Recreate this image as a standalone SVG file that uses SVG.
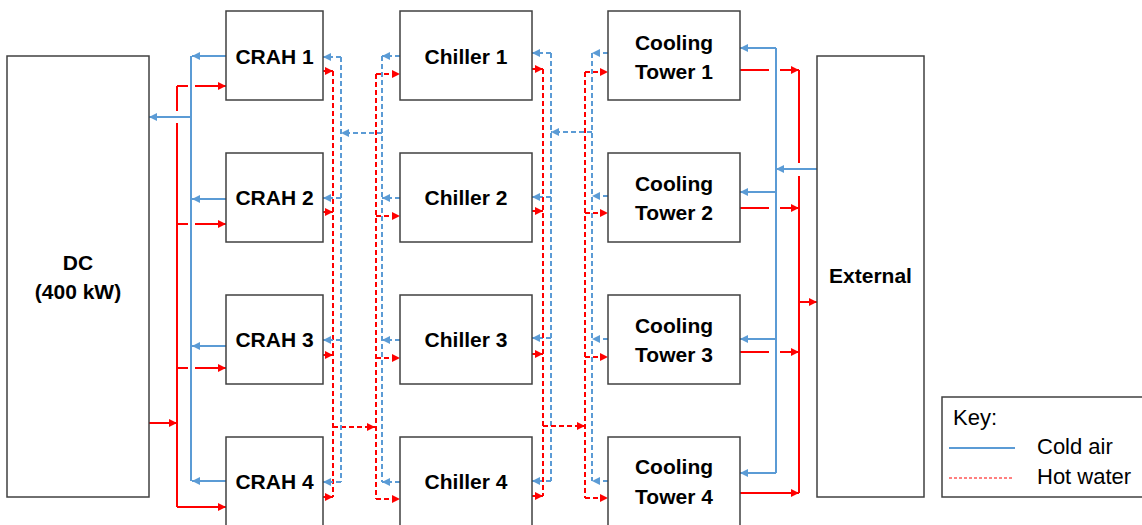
<svg xmlns="http://www.w3.org/2000/svg" width="1142" height="525" viewBox="0 0 1142 525">
<style>
.box{fill:#fff;stroke:#404040;stroke-width:1.5}
.lbl{font-family:"Liberation Sans",Arial,sans-serif;font-weight:bold;font-size:21px;fill:#000;text-anchor:middle}
.key{font-family:"Liberation Sans",Arial,sans-serif;font-size:22px;fill:#000}
.ca{fill:none;stroke:#5B9BD5;stroke-width:2}
.hw{fill:none;stroke:#FF0000;stroke-width:2}
.cad{fill:none;stroke:#5B9BD5;stroke-width:2;stroke-dasharray:5,3}
.hwd{fill:none;stroke:#FF0000;stroke-width:2;stroke-dasharray:5,3}
.ab{marker-end:url(#ab)}
.ar{marker-end:url(#ar)}
</style>
<defs>
<marker id="ab" viewBox="0 0 10 10" refX="10" refY="5" markerWidth="9" markerHeight="8" markerUnits="userSpaceOnUse" orient="auto"><path d="M0,0 L10,5 L0,10 z" fill="#5B9BD5"/></marker>
<marker id="ar" viewBox="0 0 10 10" refX="10" refY="5" markerWidth="9" markerHeight="8" markerUnits="userSpaceOnUse" orient="auto"><path d="M0,0 L10,5 L0,10 z" fill="#FF0000"/></marker>
</defs>
<rect width="1142" height="525" fill="#fff"/>

<g id="connectors">
  <!-- DC - CRAH -->
  <path class="ca" d="M191,56 V481"/>
  <path class="ca ab" d="M226,56 H192"/>
  <path class="ca ab" d="M226,199 H192"/>
  <path class="ca ab" d="M226,346 H192"/>
  <path class="ca ab" d="M226,481 H192"/>
  <path class="ca ab" d="M191,117 H149"/>
  <path class="hw" d="M177,86 V111 M177,123 V507"/>
  <path class="hw ar" d="M177,86 H188 M195,86 H226"/>
  <path class="hw ar" d="M177,224 H188 M195,224 H226"/>
  <path class="hw ar" d="M177,368 H188 M195,368 H226"/>
  <path class="hw ar" d="M177,507 H226"/>
  <path class="hw ar" d="M149,423 H177"/>

  <!-- CRAH - Chiller -->
  <path class="hwd" d="M333,71 V497"/>
  <path class="hwd ar" d="M323,71 H333"/>
  <path class="hwd ar" d="M323,212 H333"/>
  <path class="hwd ar" d="M323,355 H333"/>
  <path class="hwd ar" d="M323,497 H333"/>
  <path class="hwd ar" d="M333,427 H375"/>
  <path class="hwd" d="M376,74 V499"/>
  <path class="hwd ar" d="M376,74 H400"/>
  <path class="hwd ar" d="M376,216 H400"/>
  <path class="hwd ar" d="M376,358 H400"/>
  <path class="hwd ar" d="M376,499 H400"/>
  <path class="cad" d="M341,57 V482"/>
  <path class="cad ab" d="M341,57 H323"/>
  <path class="cad ab" d="M341,198 H323"/>
  <path class="cad ab" d="M341,340 H323"/>
  <path class="cad ab" d="M341,482 H323"/>
  <path class="cad ab" d="M382,133 H341"/>
  <path class="cad" d="M382,56 V482"/>
  <path class="cad ab" d="M400,56 H382"/>
  <path class="cad ab" d="M400,198 H382"/>
  <path class="cad ab" d="M400,340 H382"/>
  <path class="cad ab" d="M400,482 H382"/>

  <!-- Chiller - Cooling Tower -->
  <path class="cad" d="M551,53 V481"/>
  <path class="cad ab" d="M551,53 H532"/>
  <path class="cad ab" d="M551,197 H532"/>
  <path class="cad ab" d="M551,338 H532"/>
  <path class="cad ab" d="M551,481 H532"/>
  <path class="cad ab" d="M592,132 H551"/>
  <path class="cad" d="M592,53 V481"/>
  <path class="cad ab" d="M608,53 H592"/>
  <path class="cad ab" d="M608,196 H592"/>
  <path class="cad ab" d="M608,339 H592"/>
  <path class="cad ab" d="M608,481 H592"/>
  <path class="hwd ar" d="M532,69 H543"/>
  <path class="hwd ar" d="M532,211 H543"/>
  <path class="hwd ar" d="M532,354 H543"/>
  <path class="hwd ar" d="M532,496 H543"/>
  <path class="hwd" d="M543,69 V496"/>
  <path class="hwd ar" d="M543,426 H585"/>
  <path class="hwd" d="M585,72 V498"/>
  <path class="hwd ar" d="M585,72 H608"/>
  <path class="hwd ar" d="M585,213 H608"/>
  <path class="hwd ar" d="M585,357 H608"/>
  <path class="hwd ar" d="M585,498 H608"/>

  <!-- Cooling Tower - External -->
  <path class="ca" d="M776,48 V473"/>
  <path class="ca ab" d="M776,48 H740"/>
  <path class="ca ab" d="M776,192 H740"/>
  <path class="ca ab" d="M776,339 H740"/>
  <path class="ca ab" d="M776,473 H740"/>
  <path class="ca ab" d="M817,169 H776"/>
  <path class="hw" d="M799,70 V163 M799,176 V493"/>
  <path class="hw ar" d="M740,70 H769 M780,70 H799"/>
  <path class="hw ar" d="M740,208 H769 M780,208 H799"/>
  <path class="hw ar" d="M740,352 H769 M780,352 H799"/>
  <path class="hw ar" d="M740,493 H799"/>
  <path class="hw ar" d="M799,302 H817"/>
</g>

<g id="dc"><rect class="box" x="7" y="56" width="142" height="441"/><text class="lbl" x="78" y="270">DC</text><text class="lbl" x="78" y="299">(400 kW)</text></g>

<g id="crah1"><rect class="box" x="226" y="11" width="97" height="89"/><text class="lbl" x="274.5" y="64">CRAH 1</text></g>
<g id="crah2"><rect class="box" x="226" y="153" width="97" height="89"/><text class="lbl" x="274.5" y="205">CRAH 2</text></g>
<g id="crah3"><rect class="box" x="226" y="295" width="97" height="89"/><text class="lbl" x="274.5" y="347">CRAH 3</text></g>
<g id="crah4"><rect class="box" x="226" y="437" width="97" height="90"/><text class="lbl" x="274.5" y="489">CRAH 4</text></g>

<g id="chiller1"><rect class="box" x="400" y="11" width="132" height="89"/><text class="lbl" x="466" y="64">Chiller 1</text></g>
<g id="chiller2"><rect class="box" x="400" y="153" width="132" height="89"/><text class="lbl" x="466" y="205">Chiller 2</text></g>
<g id="chiller3"><rect class="box" x="400" y="295" width="132" height="89"/><text class="lbl" x="466" y="347">Chiller 3</text></g>
<g id="chiller4"><rect class="box" x="400" y="437" width="132" height="90"/><text class="lbl" x="466" y="489">Chiller 4</text></g>

<g id="tower1"><rect class="box" x="608" y="11" width="132" height="89"/><text class="lbl" x="674" y="50">Cooling</text><text class="lbl" x="674" y="79">Tower 1</text></g>
<g id="tower2"><rect class="box" x="608" y="153" width="132" height="89"/><text class="lbl" x="674" y="191">Cooling</text><text class="lbl" x="674" y="220">Tower 2</text></g>
<g id="tower3"><rect class="box" x="608" y="295" width="132" height="89"/><text class="lbl" x="674" y="333">Cooling</text><text class="lbl" x="674" y="362">Tower 3</text></g>
<g id="tower4"><rect class="box" x="608" y="437" width="132" height="90"/><text class="lbl" x="674" y="474">Cooling</text><text class="lbl" x="674" y="504">Tower 4</text></g>

<g id="external"><rect class="box" x="817" y="56" width="107" height="441"/><text class="lbl" x="870.5" y="283">External</text></g>

<g id="legend">
  <rect class="box" x="942" y="397" width="210" height="100"/>
  <text class="key" x="953" y="425">Key:</text>
  <line x1="949" y1="448" x2="1015" y2="448" stroke="#5B9BD5" stroke-width="2"/>
  <line x1="949" y1="478" x2="1014" y2="478" stroke="#FF0000" stroke-width="1" stroke-dasharray="3,2"/>
  <text class="key" x="1037" y="454">Cold air</text>
  <text class="key" x="1037" y="484">Hot water</text>
</g>
</svg>
